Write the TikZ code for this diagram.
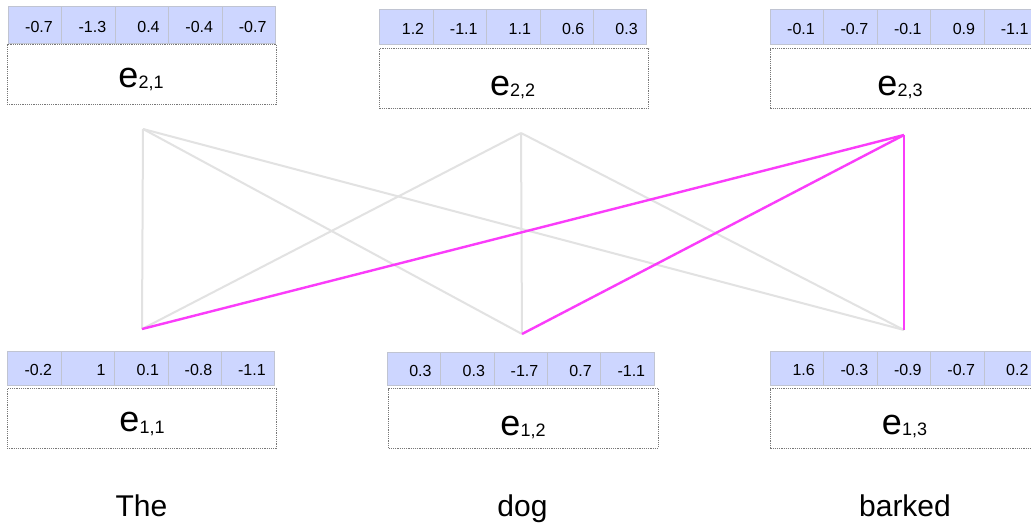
\documentclass[tikz,border=0pt]{standalone}
\usepackage{fontspec}
\setmainfont{Liberation Sans}
\definecolor{cellfill}{RGB}{205,214,255}
\definecolor{cellline}{RGB}{192,196,210}
\definecolor{boxline}{RGB}{120,120,120}
\definecolor{faint}{RGB}{226,226,226}
\definecolor{hot}{RGB}{250,60,250}
\tikzset{
  cell/.style={draw=cellline, line width=0.8pt, fill=cellfill, inner sep=0pt,
    minimum width=53.4pt, text width=35.4pt, align=right,
    text height=14.5pt, text depth=0pt, font=\fontsize{16}{16}\selectfont},
  lblbox/.style={draw=boxline, line width=0.6pt, dash pattern=on 1.2pt off 1pt,
    fill=white, inner sep=0pt, anchor=north west},
  elabel/.style={anchor=base, inner sep=0pt},
  word/.style={anchor=base, inner sep=0pt, font=\fontsize{30}{30}\selectfont},
  weak/.style={draw=faint, line width=2pt},
  strong/.style={draw=hot, line width=2.4pt},
}
\newcommand\vrow[5]{%
  \foreach \v [count=\i] in {#5}{%
    \pgfmathsetmacro\cx{#2+(\i-1)*53.4}%
    \node[cell, minimum height=#4pt, anchor=north west] (#1-\i) at (\cx,#3) {\v};
  }}
\newcommand\elab[2]{{\fontsize{36}{36}\selectfont e}{\fontsize{18}{18}\selectfont\raisebox{-1.5pt}{#1,#2}}}
\begin{document}
\begin{tikzpicture}[x=1pt,y=-1pt]
\clip (0,0) rectangle (1031,525);
\fill[white] (0,0) rectangle (1031,525);

% connection end points
\coordinate (t1) at (143,129);
\coordinate (t2) at (521,133);
\coordinate (t3) at (904,135);
\coordinate (b1) at (142,329);
\coordinate (b2) at (522,334);
\coordinate (b3) at (904,330);

\draw[weak] (t1) -- (b1);
\draw[weak] (t1) -- (b2);
\draw[weak] (t1) -- (b3);
\draw[weak] (t2) -- (b1);
\draw[weak] (t2) -- (b2);
\draw[weak] (t2) -- (b3);
\draw[strong] (t3) -- (b1);
\draw[strong] (t3) -- (b2);
\draw[strong] (t3) -- (b3);

% top layer
\vrow{v21}{8}{6}{36.7}{-0.7,-1.3,0.4,-0.4,-0.7}
\node[lblbox, minimum width=269.3pt, minimum height=60pt] (B21) at (6.7,44.3) {};
\node[elabel] (L21) at (141,87) {\elab{2}{1}};

\vrow{v22}{379.3}{9.3}{35}{1.2,-1.1,1.1,0.6,0.3}
\node[lblbox, minimum width=269pt, minimum height=60pt] (B22) at (379.3,48.3) {};
\node[elabel] (L22) at (512.7,95) {\elab{2}{2}};

\vrow{v23}{770}{9.3}{34.7}{-0.1,-0.7,-0.1,0.9,-1.1}
\node[lblbox, minimum width=270pt, minimum height=59.4pt] (B23) at (770,48.3) {};
\node[elabel] (L23) at (900,95) {\elab{2}{3}};

% bottom layer
\vrow{v11}{7.3}{351}{34}{-0.2,1,0.1,-0.8,-1.1}
\node[lblbox, minimum width=269.3pt, minimum height=59.4pt] (B11) at (6.7,388.3) {};
\node[elabel] (L11) at (142,431.7) {\elab{1}{1}};

\vrow{v12}{386.7}{351.7}{33.3}{0.3,0.3,-1.7,0.7,-1.1}
\node[lblbox, minimum width=270pt, minimum height=59.4pt] (B12) at (388.3,388.3) {};
\node[elabel] (L12) at (523,435) {\elab{1}{2}};

\vrow{v13}{770}{351}{34}{1.6,-0.3,-0.9,-0.7,0.2}
\node[lblbox, minimum width=270pt, minimum height=59.4pt] (B13) at (770,388.3) {};
\node[elabel] (L13) at (904.5,434.3) {\elab{1}{3}};

% words
\node[word] (w1) at (141.5,516.5) {The};
\node[word] (w2) at (522.5,516.5) {dog};
\node[word] (w3) at (905,516.5) {barked};
\end{tikzpicture}
\end{document}
